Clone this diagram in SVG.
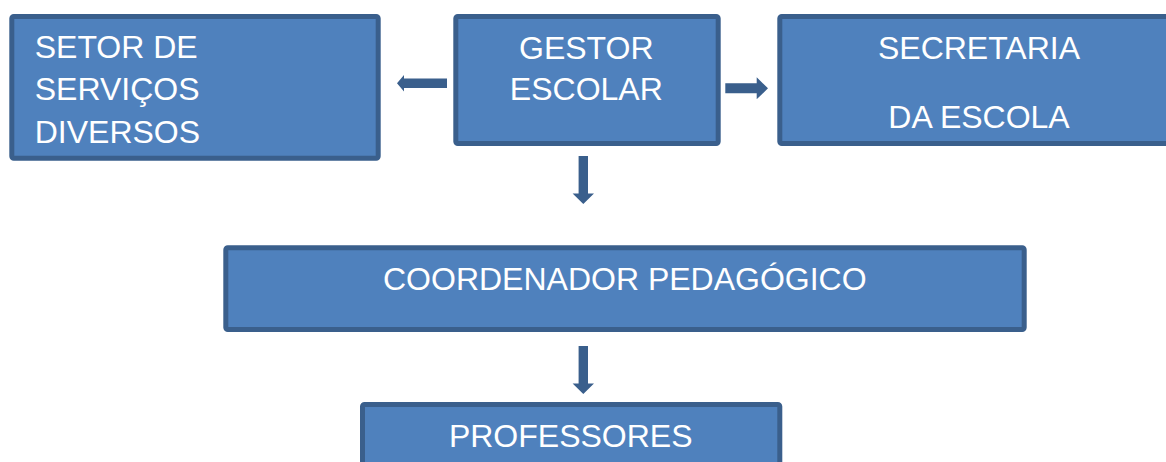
<svg xmlns="http://www.w3.org/2000/svg" xmlns:xlink="http://www.w3.org/1999/xlink" width="1166" height="462" viewBox="0 0 1166 462">
<style>
.box{fill:#4F81BD;stroke:#3A5F8C;stroke-width:5}
.lbl{fill:#FFFFFF;font-family:"Liberation Sans",Arial,sans-serif;font-size:32px}
.mid{text-anchor:middle}
.arr{fill:#3A5F8C}
</style>
<defs>
<path id="down" d="M-4.7,0 H4.7 V37.5 H10.7 L0,48 L-10.7,37.5 H-4.7 Z"/>
</defs>
<rect width="1166" height="462" fill="#FFFFFF"/>
<g id="connectors">
<path class="arr" d="M447,78.5 H404 V75 L397,83.2 L404,91.5 V88 H447 Z"/>
<path class="arr" d="M725.3,83.3 H756.7 V77.3 L768,88.3 L756.7,99.3 V93.3 H725.3 Z"/>
<use xlink:href="#down" class="arr" transform="translate(583.3,156)"/>
<use xlink:href="#down" class="arr" transform="translate(583.3,346)"/>
</g>
<g id="setor">
<rect class="box" x="11.8" y="16.5" width="366.4" height="141.7" rx="2"/>
<text class="lbl" x="34.7" y="58.3">SETOR DE</text>
<text class="lbl" x="34.7" y="100.3">SERVIÇOS</text>
<text class="lbl" x="34.7" y="142.5">DIVERSOS</text>
</g>
<g id="gestor">
<rect class="box" x="455.8" y="16.5" width="262.4" height="127" rx="2"/>
<text class="lbl mid" x="586.3" y="59.3">GESTOR</text>
<text class="lbl mid" x="586.3" y="100">ESCOLAR</text>
</g>
<g id="secretaria">
<rect class="box" x="779.8" y="16.5" width="420" height="127" rx="2"/>
<text class="lbl mid" x="979" y="58.7">SECRETARIA</text>
<text class="lbl mid" x="979" y="128">DA ESCOLA</text>
</g>
<g id="coordenador">
<rect class="box" x="225.8" y="247.8" width="798.4" height="81.7" rx="2"/>
<text class="lbl mid" x="624.8" y="290.3">COORDENADOR PEDAGÓGICO</text>
</g>
<g id="professores">
<rect class="box" x="362.5" y="404.5" width="417.3" height="100" rx="2"/>
<text class="lbl mid" x="570.7" y="447.3">PROFESSORES</text>
</g>
</svg>
